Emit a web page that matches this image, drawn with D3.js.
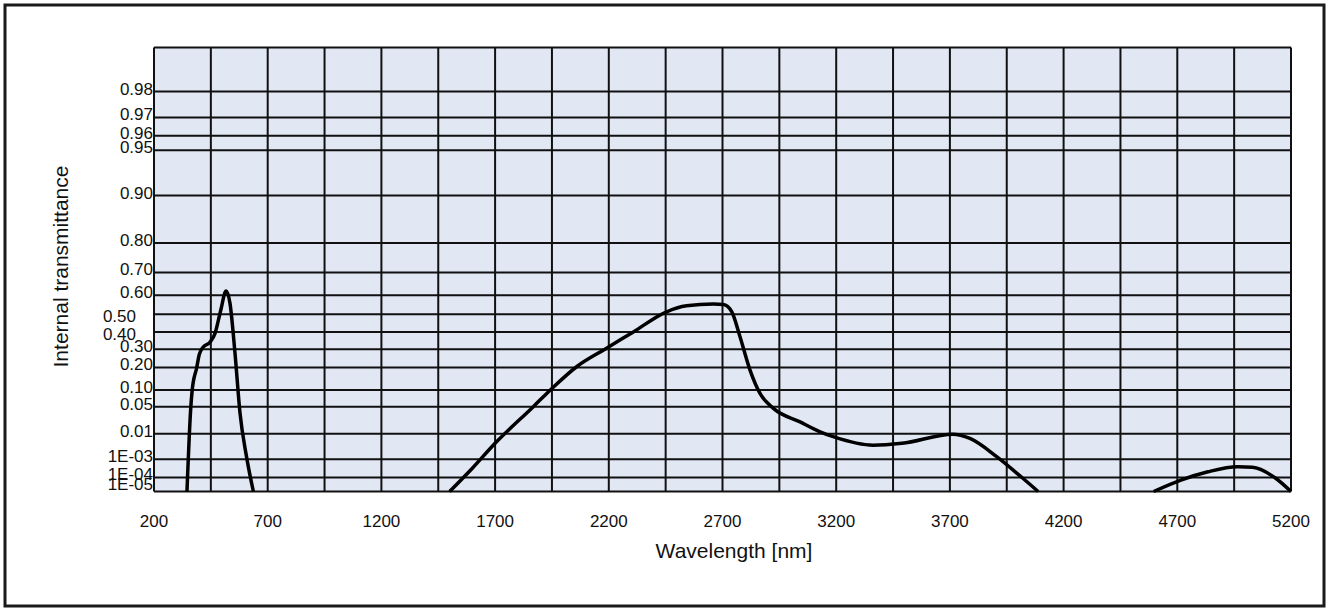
<!DOCTYPE html>
<html lang="en">
<head>
    <meta charset="UTF-8">
    <title>Internal transmittance | D3</title>
    <style>
        body { margin: 0; background: #fff; }
        text { font-family: "Liberation Sans", Arial, sans-serif; fill: #111; }
    </style>
</head>
<body>
    <div id="chart"></div>

    <script type="text/javascript" src="https://d3js.org/d3.v7.min.js"></script>
    <script type="text/javascript">
        // Wavelength [nm] and internal transmittance.
        // null marks where the curve drops below the axis floor (1E-05).
        var wavelengths = [
            345, 362, 368, 388, 399, 415, 446, 468, 493, 517, 534, 556, 578, 607, 637,
            null,
            1500, 1600, 1700, 1868, 1950, 2060, 2183, 2308, 2447, 2542, 2660, 2704, 2741,
            2777, 2821, 2865, 2924, 3041, 3129, 3190, 3362, 3489, 3713, 3788, 3907, 4013, 4088,
            null,
            4596, 4716, 4835, 4965, 5030, 5134, 5200
        ];
        var transmittance = [
            1e-5, 0.05, 0.10, 0.20, 0.27, 0.31, 0.34, 0.39, 0.52, 0.62, 0.56, 0.28, 0.037, 0.0013, 1e-5,
            null,
            1e-5, 3.5e-4, 0.0047, 0.05, 0.106, 0.205, 0.30, 0.40, 0.51, 0.546, 0.555, 0.553, 0.514,
            0.372, 0.187, 0.088, 0.046, 0.022, 0.0115, 0.0079, 0.0040, 0.0047, 0.0097, 0.0070, 0.0013, 1.1e-4, 1e-5,
            null,
            1e-5, 6.7e-5, 2.2e-4, 4.2e-4, 3.9e-4, 8.6e-5, 1e-5
        ];

        var xTicks = [200, 700, 1200, 1700, 2200, 2700, 3200, 3700, 4200, 4700, 5200];
        var xGrid = d3.range(200, 5201, 250);
        var yTicks = [1e-5, 1e-4, 1e-3, 0.01, 0.05, 0.10, 0.20, 0.30, 0.40, 0.50, 0.60, 0.70, 0.80, 0.90, 0.95, 0.96, 0.97, 0.98];
        var yTickLabels = ["1E-05", "1E-04", "1E-03", "0.01", "0.05", "0.10", "0.20", "0.30", "0.40", "0.50",
            "0.60", "0.70", "0.80", "0.90", "0.95", "0.96", "0.97", "0.98"];
        var yTop = 0.99;

        var width = 1329, height = 608;
        var plot = { left: 154, right: 1291, top: 47.5, bottom: 491.5 };

        // Double-log (Weibull type) transmittance axis: log10(-ln T).
        function tf(t) { return Math.log10(-Math.log(t)); }

        var xScaling = d3.scaleLinear()
            .domain([200, 5200])
            .range([plot.left, plot.right]);

        var yLinear = d3.scaleLinear()
            .domain([tf(yTop), tf(1e-5)])
            .range([plot.top, plot.bottom]);

        function yScaling(t) { return yLinear(tf(t)); }

        var svg = d3.select("#chart")
            .append("svg")
            .attr("width", width)
            .attr("height", height);

        // Outer frame.
        svg.append("rect")
            .attr("x", 5).attr("y", 5)
            .attr("width", 1319).attr("height", 601)
            .attr("fill", "#fff")
            .attr("stroke", "#1a1a1a")
            .attr("stroke-width", 3);

        // Plot background.
        svg.append("rect")
            .attr("x", plot.left).attr("y", plot.top)
            .attr("width", plot.right - plot.left)
            .attr("height", plot.bottom - plot.top)
            .attr("fill", "#e1e8f4");

        // Grid lines.
        var grid = svg.append("g").attr("stroke", "#111").attr("stroke-width", 2);
        grid.selectAll("line.v")
            .data(xGrid)
            .enter().append("line")
            .attr("class", "v")
            .attr("x1", function(d) { return xScaling(d); })
            .attr("x2", function(d) { return xScaling(d); })
            .attr("y1", plot.top)
            .attr("y2", plot.bottom);

        grid.selectAll("line.h")
            .data(yTicks.concat([yTop]))
            .enter().append("line")
            .attr("class", "h")
            .attr("x1", plot.left)
            .attr("x2", plot.right)
            .attr("y1", function(d) { return yScaling(d); })
            .attr("y2", function(d) { return yScaling(d); });

        // X tick labels.
        svg.append("g")
            .selectAll("text")
            .data(xTicks)
            .enter().append("text")
            .attr("x", function(d) { return xScaling(d); })
            .attr("y", 526.5)
            .attr("text-anchor", "middle")
            .style("font-size", "17px")
            .text(function(d) { return d; });

        // Y tick labels; a few are nudged like in the original to avoid overlap.
        svg.append("g")
            .selectAll("text")
            .data(yTicks)
            .enter().append("text")
            .attr("x", function(d) { return (d === 0.4 || d === 0.5) ? 136 : 153; })
            .attr("y", function(d, i) {
                var dy = 3;
                if (d === 1e-5) dy = -2;
                if (d === 0.4 || d === 0.5) dy = 8;
                return yScaling(d) + dy;
            })
            .attr("text-anchor", "end")
            .style("font-size", "17px")
            .text(function(d, i) { return yTickLabels[i]; });

        // Axis titles.
        svg.append("text")
            .attr("x", 734)
            .attr("y", 558)
            .attr("text-anchor", "middle")
            .style("font-size", "21px")
            .text("Wavelength [nm]");

        svg.append("text")
            .attr("transform", "translate(68, 266.5) rotate(-90)")
            .attr("text-anchor", "middle")
            .style("font-size", "21px")
            .text("Internal transmittance");

        // Transmittance curve.
        var points = wavelengths.map(function(w, i) { return { w: w, t: transmittance[i] }; });

        var line = d3.line()
            .defined(function(d) { return d.w !== null && d.t !== null; })
            .x(function(d) { return xScaling(d.w); })
            .y(function(d) { return yScaling(d.t); })
            .curve(d3.curveMonotoneX);

        svg.append("path")
            .datum(points)
            .attr("fill", "none")
            .attr("stroke", "#000")
            .attr("stroke-width", 3.5)
            .attr("stroke-linejoin", "round")
            .attr("d", line);
    </script>
</body>
</html>
